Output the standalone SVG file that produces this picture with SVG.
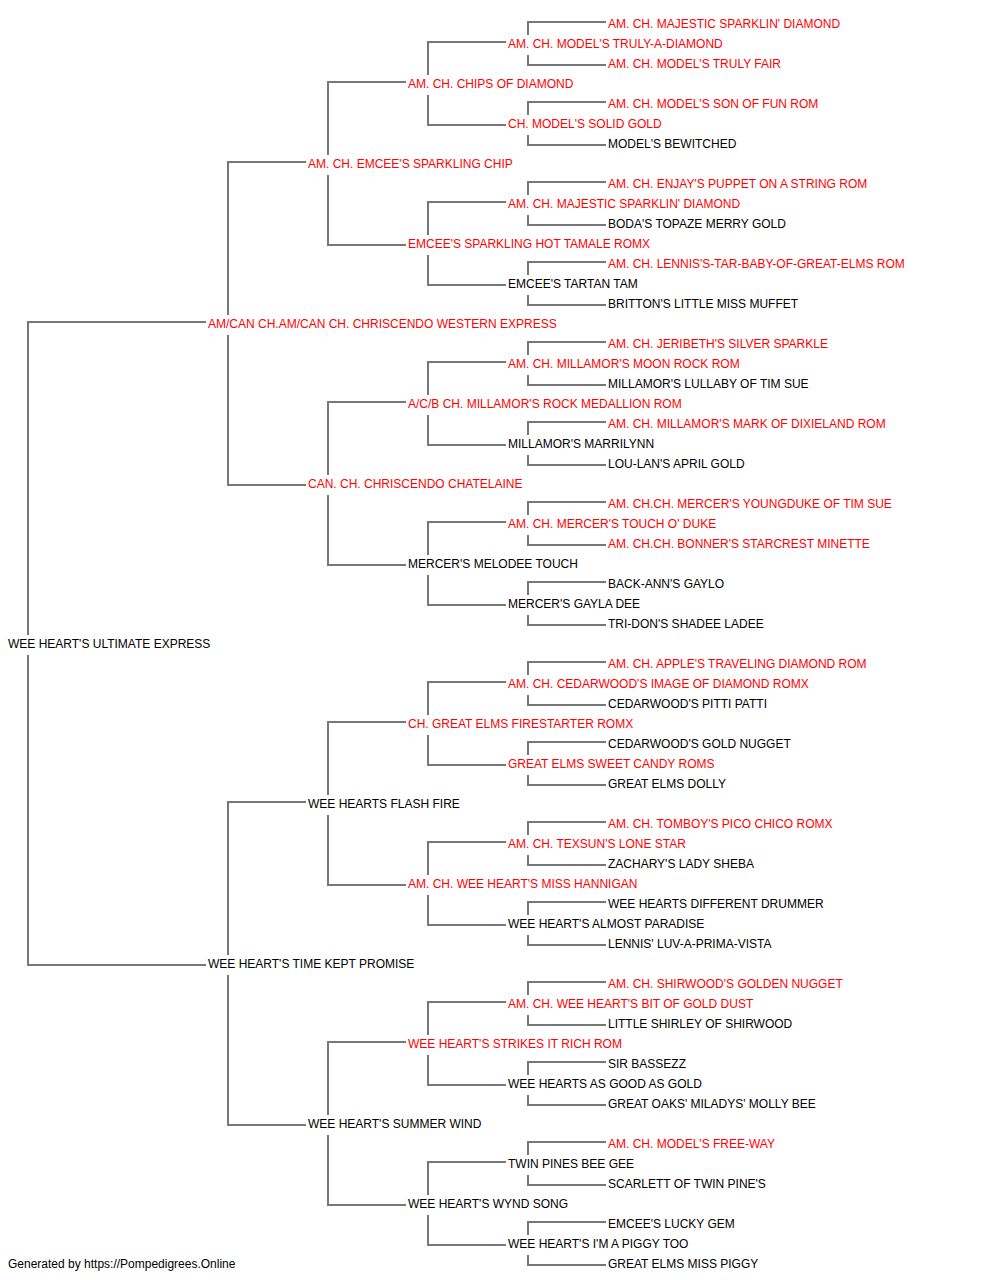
<svg xmlns="http://www.w3.org/2000/svg" width="1000" height="1280" viewBox="0 0 1000 1280">
<style>
text{font-family:"Liberation Sans",Arial,sans-serif;font-size:12px;fill:#000}
.r{fill:#ff0000}
.c path{fill:none;stroke:#777;stroke-width:2}
</style>
<rect width="1000" height="1280" fill="#fff"/>
<g class="c" id="connectors">
<path d="M206,322H28V635M28,655V965H206"/>
<path d="M306,162H228V315M228,335V485H306"/>
<path d="M306,802H228V955M228,975V1125H306"/>
<path d="M406,82H328V155M328,175V245H406"/>
<path d="M406,402H328V475M328,495V565H406"/>
<path d="M406,722H328V795M328,815V885H406"/>
<path d="M406,1042H328V1115M328,1135V1205H406"/>
<path d="M506,42H428V75M428,95V125H506"/>
<path d="M506,202H428V235M428,255V285H506"/>
<path d="M506,362H428V395M428,415V445H506"/>
<path d="M506,522H428V555M428,575V605H506"/>
<path d="M506,682H428V715M428,735V765H506"/>
<path d="M506,842H428V875M428,895V925H506"/>
<path d="M506,1002H428V1035M428,1055V1085H506"/>
<path d="M506,1162H428V1195M428,1215V1245H506"/>
<path d="M606,22H528V35M528,55V65H606"/>
<path d="M606,102H528V115M528,135V145H606"/>
<path d="M606,182H528V195M528,215V225H606"/>
<path d="M606,262H528V275M528,295V305H606"/>
<path d="M606,342H528V355M528,375V385H606"/>
<path d="M606,422H528V435M528,455V465H606"/>
<path d="M606,502H528V515M528,535V545H606"/>
<path d="M606,582H528V595M528,615V625H606"/>
<path d="M606,662H528V675M528,695V705H606"/>
<path d="M606,742H528V755M528,775V785H606"/>
<path d="M606,822H528V835M528,855V865H606"/>
<path d="M606,902H528V915M528,935V945H606"/>
<path d="M606,982H528V995M528,1015V1025H606"/>
<path d="M606,1062H528V1075M528,1095V1105H606"/>
<path d="M606,1142H528V1155M528,1175V1185H606"/>
<path d="M606,1222H528V1235M528,1255V1265H606"/>
</g>
<g id="n0"><text x="8" y="648">WEE HEART'S ULTIMATE EXPRESS</text></g>
<g id="n1a"><text class="r" x="208" y="328">AM/CAN CH.AM/CAN CH. CHRISCENDO WESTERN EXPRESS</text></g>
<g id="n1b"><text x="208" y="968">WEE HEART'S TIME KEPT PROMISE</text></g>
<g id="n2a"><text class="r" x="308" y="168">AM. CH. EMCEE'S SPARKLING CHIP</text></g>
<g id="n2b"><text class="r" x="308" y="488">CAN. CH. CHRISCENDO CHATELAINE</text></g>
<g id="n2c"><text x="308" y="808">WEE HEARTS FLASH FIRE</text></g>
<g id="n2d"><text x="308" y="1128">WEE HEART'S SUMMER WIND</text></g>
<g id="n3a"><text class="r" x="408" y="88">AM. CH. CHIPS OF DIAMOND</text></g>
<g id="n3b"><text class="r" x="408" y="248">EMCEE'S SPARKLING HOT TAMALE ROMX</text></g>
<g id="n3c"><text class="r" x="408" y="408">A/C/B CH. MILLAMOR'S ROCK MEDALLION ROM</text></g>
<g id="n3d"><text x="408" y="568">MERCER'S MELODEE TOUCH</text></g>
<g id="n3e"><text class="r" x="408" y="728">CH. GREAT ELMS FIRESTARTER ROMX</text></g>
<g id="n3f"><text class="r" x="408" y="888">AM. CH. WEE HEART'S MISS HANNIGAN</text></g>
<g id="n3g"><text class="r" x="408" y="1048">WEE HEART'S STRIKES IT RICH ROM</text></g>
<g id="n3h"><text x="408" y="1208">WEE HEART'S WYND SONG</text></g>
<g id="n4a"><text class="r" x="508" y="48">AM. CH. MODEL'S TRULY-A-DIAMOND</text></g>
<g id="n4b"><text class="r" x="508" y="128">CH. MODEL'S SOLID GOLD</text></g>
<g id="n4c"><text class="r" x="508" y="208">AM. CH. MAJESTIC SPARKLIN' DIAMOND</text></g>
<g id="n4d"><text x="508" y="288">EMCEE'S TARTAN TAM</text></g>
<g id="n4e"><text class="r" x="508" y="368">AM. CH. MILLAMOR'S MOON ROCK ROM</text></g>
<g id="n4f"><text x="508" y="448">MILLAMOR'S MARRILYNN</text></g>
<g id="n4g"><text class="r" x="508" y="528">AM. CH. MERCER'S TOUCH O' DUKE</text></g>
<g id="n4h"><text x="508" y="608">MERCER'S GAYLA DEE</text></g>
<g id="n4i"><text class="r" x="508" y="688">AM. CH. CEDARWOOD'S IMAGE OF DIAMOND ROMX</text></g>
<g id="n4j"><text class="r" x="508" y="768">GREAT ELMS SWEET CANDY ROMS</text></g>
<g id="n4k"><text class="r" x="508" y="848">AM. CH. TEXSUN'S LONE STAR</text></g>
<g id="n4l"><text x="508" y="928">WEE HEART'S ALMOST PARADISE</text></g>
<g id="n4m"><text class="r" x="508" y="1008">AM. CH. WEE HEART'S BIT OF GOLD DUST</text></g>
<g id="n4n"><text x="508" y="1088">WEE HEARTS AS GOOD AS GOLD</text></g>
<g id="n4o"><text x="508" y="1168">TWIN PINES BEE GEE</text></g>
<g id="n4p"><text x="508" y="1248">WEE HEART'S I'M A PIGGY TOO</text></g>
<g id="n5_01"><text class="r" x="608" y="28">AM. CH. MAJESTIC SPARKLIN' DIAMOND</text></g>
<g id="n5_02"><text class="r" x="608" y="68">AM. CH. MODEL'S TRULY FAIR</text></g>
<g id="n5_03"><text class="r" x="608" y="108">AM. CH. MODEL'S SON OF FUN ROM</text></g>
<g id="n5_04"><text x="608" y="148">MODEL'S BEWITCHED</text></g>
<g id="n5_05"><text class="r" x="608" y="188">AM. CH. ENJAY'S PUPPET ON A STRING ROM</text></g>
<g id="n5_06"><text x="608" y="228">BODA'S TOPAZE MERRY GOLD</text></g>
<g id="n5_07"><text class="r" x="608" y="268">AM. CH. LENNIS'S-TAR-BABY-OF-GREAT-ELMS ROM</text></g>
<g id="n5_08"><text x="608" y="308">BRITTON'S LITTLE MISS MUFFET</text></g>
<g id="n5_09"><text class="r" x="608" y="348">AM. CH. JERIBETH'S SILVER SPARKLE</text></g>
<g id="n5_10"><text x="608" y="388">MILLAMOR'S LULLABY OF TIM SUE</text></g>
<g id="n5_11"><text class="r" x="608" y="428">AM. CH. MILLAMOR'S MARK OF DIXIELAND ROM</text></g>
<g id="n5_12"><text x="608" y="468">LOU-LAN'S APRIL GOLD</text></g>
<g id="n5_13"><text class="r" x="608" y="508">AM. CH.CH. MERCER'S YOUNGDUKE OF TIM SUE</text></g>
<g id="n5_14"><text class="r" x="608" y="548">AM. CH.CH. BONNER'S STARCREST MINETTE</text></g>
<g id="n5_15"><text x="608" y="588">BACK-ANN'S GAYLO</text></g>
<g id="n5_16"><text x="608" y="628">TRI-DON'S SHADEE LADEE</text></g>
<g id="n5_17"><text class="r" x="608" y="668">AM. CH. APPLE'S TRAVELING DIAMOND ROM</text></g>
<g id="n5_18"><text x="608" y="708">CEDARWOOD'S PITTI PATTI</text></g>
<g id="n5_19"><text x="608" y="748">CEDARWOOD'S GOLD NUGGET</text></g>
<g id="n5_20"><text x="608" y="788">GREAT ELMS DOLLY</text></g>
<g id="n5_21"><text class="r" x="608" y="828">AM. CH. TOMBOY'S PICO CHICO ROMX</text></g>
<g id="n5_22"><text x="608" y="868">ZACHARY'S LADY SHEBA</text></g>
<g id="n5_23"><text x="608" y="908">WEE HEARTS DIFFERENT DRUMMER</text></g>
<g id="n5_24"><text x="608" y="948">LENNIS' LUV-A-PRIMA-VISTA</text></g>
<g id="n5_25"><text class="r" x="608" y="988">AM. CH. SHIRWOOD'S GOLDEN NUGGET</text></g>
<g id="n5_26"><text x="608" y="1028">LITTLE SHIRLEY OF SHIRWOOD</text></g>
<g id="n5_27"><text x="608" y="1068">SIR BASSEZZ</text></g>
<g id="n5_28"><text x="608" y="1108">GREAT OAKS' MILADYS' MOLLY BEE</text></g>
<g id="n5_29"><text class="r" x="608" y="1148">AM. CH. MODEL'S FREE-WAY</text></g>
<g id="n5_30"><text x="608" y="1188">SCARLETT OF TWIN PINE'S</text></g>
<g id="n5_31"><text x="608" y="1228">EMCEE'S LUCKY GEM</text></g>
<g id="n5_32"><text x="608" y="1268">GREAT ELMS MISS PIGGY</text></g>
<g id="footer"><text x="8" y="1268">Generated by https://Pompedigrees.Online</text></g>
</svg>
